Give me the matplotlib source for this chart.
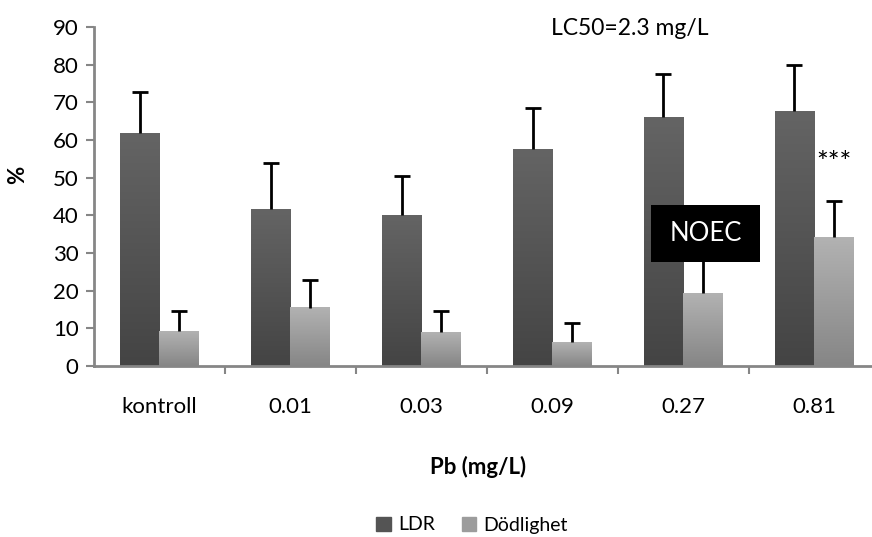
import numpy as np
import matplotlib.pyplot as plt
from matplotlib.colors import LinearSegmentedColormap
from matplotlib.patches import Rectangle

plt.rcParams['font.family'] = ['Lato', 'DejaVu Sans']

# data
categories = ["kontroll", "0.01", "0.03", "0.09", "0.27", "0.81"]
ldr = [61.8, 41.6, 40.0, 57.5, 66.0, 67.6]
ldr_err = [10.9, 12.4, 10.5, 10.9, 11.4, 12.3]
dod = [9.2, 15.5, 9.0, 6.3, 19.3, 34.2]
dod_err = [5.5, 7.2, 5.5, 5.0, 9.5, 9.6]

series = [("LDR", ldr, ldr_err, "#646464", "#444444"),
          ("Dödlighet", dod, dod_err, "#b2b2b2", "#868686")]

fig = plt.figure(figsize=(8.72, 5.37), dpi=100)
ax = fig.add_axes([94 / 872, 1 - 366 / 537, 785.5 / 872, 339 / 537])

x = np.arange(len(categories))
width = 0.3
grad = np.linspace(1, 0, 100).reshape(-1, 1)

handles = []
for i, (name, vals, errs, top, bottom) in enumerate(series):
    pos = x + (i - 0.5) * width
    cmap = LinearSegmentedColormap.from_list(name, [bottom, top])
    bars = ax.bar(pos, vals, width, color="none", edgecolor="none", zorder=2)
    for b in bars:
        ax.imshow(grad, cmap=cmap, aspect="auto", zorder=2,
                  extent=[b.get_x(), b.get_x() + b.get_width(), 0, b.get_height()])
    _, caps, _ = ax.errorbar(pos, vals, yerr=[np.zeros(len(vals)), errs], fmt="none",
                             ecolor="black", elinewidth=2, capsize=6, capthick=2, zorder=3)
    caps[0].set_visible(False)  # only the upper cap
    handles.append(Rectangle((0, 0), 1, 1, color=cmap(0.5)))

ax.set_xlim(-0.5, 5.5)
ax.set_ylim(0, 90)
ax.set_yticks(np.arange(0, 91, 10))
ax.set_xticks(x)
ax.set_xticklabels(categories)
ax.set_xticks(x[:-1] + 0.5, minor=True)
ax.tick_params(axis="x", which="major", length=0, pad=22, labelsize=16)
ax.tick_params(axis="x", which="minor", length=6, width=1.5, color="#868686")
ax.tick_params(axis="y", length=6, width=1.5, color="#868686", labelsize=16, pad=5)

for side in ["top", "right"]:
    ax.spines[side].set_visible(False)
for side in ["left", "bottom"]:
    ax.spines[side].set_color("#868686")
    ax.spines[side].set_linewidth(2)

ax.text(3.59, 89.5, "LC50=2.3 mg/L", ha="center", va="center", fontsize=16.5)

# NOEC label box
ax.add_patch(Rectangle((3.755, 27.6), 0.833, 15.1, fc="black", ec="none", zorder=5))
ax.text(4.17, 35.2, "NOEC", ha="center", va="center", fontsize=18.5, color="white", zorder=6)
ax.text(5.15, 53.5, "***", ha="center", va="center", fontsize=20)

fig.text(478 / 872, 1 - 467 / 537, "Pb (mg/L)", ha="center", va="center",
         fontsize=16, fontweight="bold")
fig.text(18 / 872, 1 - 175 / 537, "%", ha="center", va="center", rotation=90,
         fontsize=16, fontweight="bold")

fig.legend(handles, [s[0] for s in series], loc="center",
           bbox_to_anchor=(472 / 872, 1 - 525 / 537), ncol=2, frameon=False,
           fontsize=14, handlelength=0.75, handleheight=0.75, handletextpad=0.35,
           columnspacing=1.4, borderpad=0)

fig.savefig("out.png", dpi=100)
